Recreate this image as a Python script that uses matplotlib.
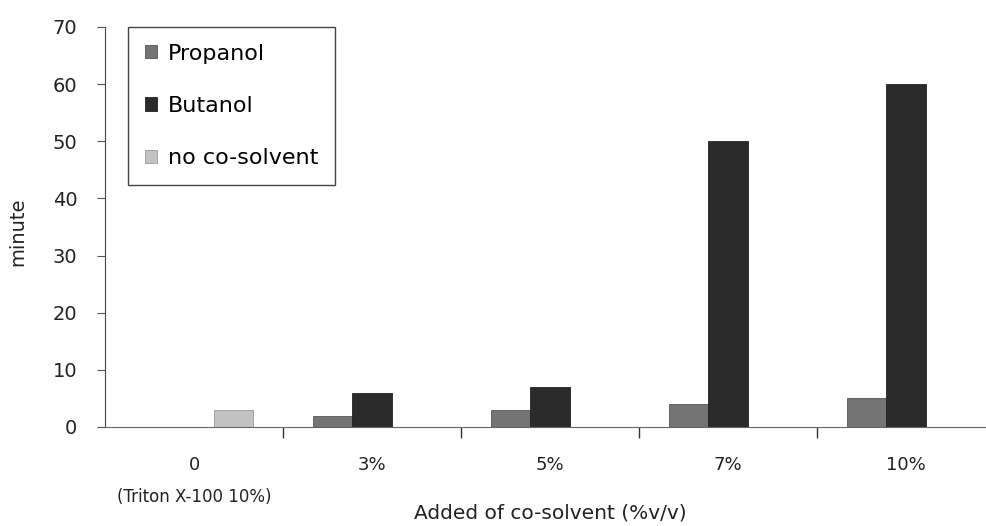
import numpy as np
import matplotlib.pyplot as plt

categories = ["0", "3%", "5%", "7%", "10%"]
propanol = [0, 2, 3, 4, 5]
butanol = [0, 6, 7, 50, 60]
no_cosolvent = [3, 0, 0, 0, 0]

plt.rcParams['font.family'] = ['DejaVu Sans']

fig = plt.figure(figsize=(9.86, 5.26), dpi=100)
ax = fig.add_axes([105 / 986, 99 / 526, 890 / 986, 400 / 526])

x = np.arange(len(categories)) + 0.5
w = 0.22
ax.bar(x - w, propanol, w, color="#747474", edgecolor="#555555", linewidth=0.6, label="Propanol")
ax.bar(x, butanol, w, color="#2b2b2b", edgecolor="#222222", linewidth=0.6, label="Butanol")
ax.bar(x + w, no_cosolvent, w, color="#c2c2c2", edgecolor="#999999", linewidth=0.6, label="no co-solvent")

ax.set_xlim(0, 5)
ax.set_ylim(0, 70)
ax.set_yticks(range(0, 71, 10))
ax.tick_params(axis="y", labelsize=14, length=6, width=0.8, color="#555555", pad=14, labelcolor="#222222")

# category boundaries as ticks, labels centered in between
ax.set_xticks(np.arange(1, 5))
ax.set_xticklabels([])
ax.tick_params(axis="x", length=8, width=1, color="#333333")
for xi, lab in zip(x, categories):
    ax.text(xi, -6.6, lab, ha="center", va="center", fontsize=13, color="#222222")
ax.text(x[0], -12.2, "(Triton X-100 10%)", ha="center", va="center", fontsize=12, color="#222222")

ax.spines["top"].set_visible(False)
ax.spines["right"].set_visible(False)
ax.spines["left"].set_color("#444444")
ax.spines["bottom"].set_color("#666666")

fig.text(18 / 986, 1 - 232 / 526, "minute", rotation=90, ha="center", va="center",
         fontsize=14, color="#222222")
fig.text(550 / 986, 1 - 513 / 526, "Added of co-solvent (%v/v)", ha="center", va="center",
         fontsize=14.5, color="#222222")

leg = ax.legend(loc="upper left", bbox_to_anchor=(23 / 890, 1.0), borderaxespad=0, fontsize=16,
                handlelength=0.55, handleheight=0.55, handletextpad=0.5,
                labelspacing=1.45, borderpad=0.75, fancybox=False, framealpha=1)
leg.get_frame().set_edgecolor("#444444")
leg.get_frame().set_linewidth(1.0)

fig.savefig("out.png", dpi=100)
